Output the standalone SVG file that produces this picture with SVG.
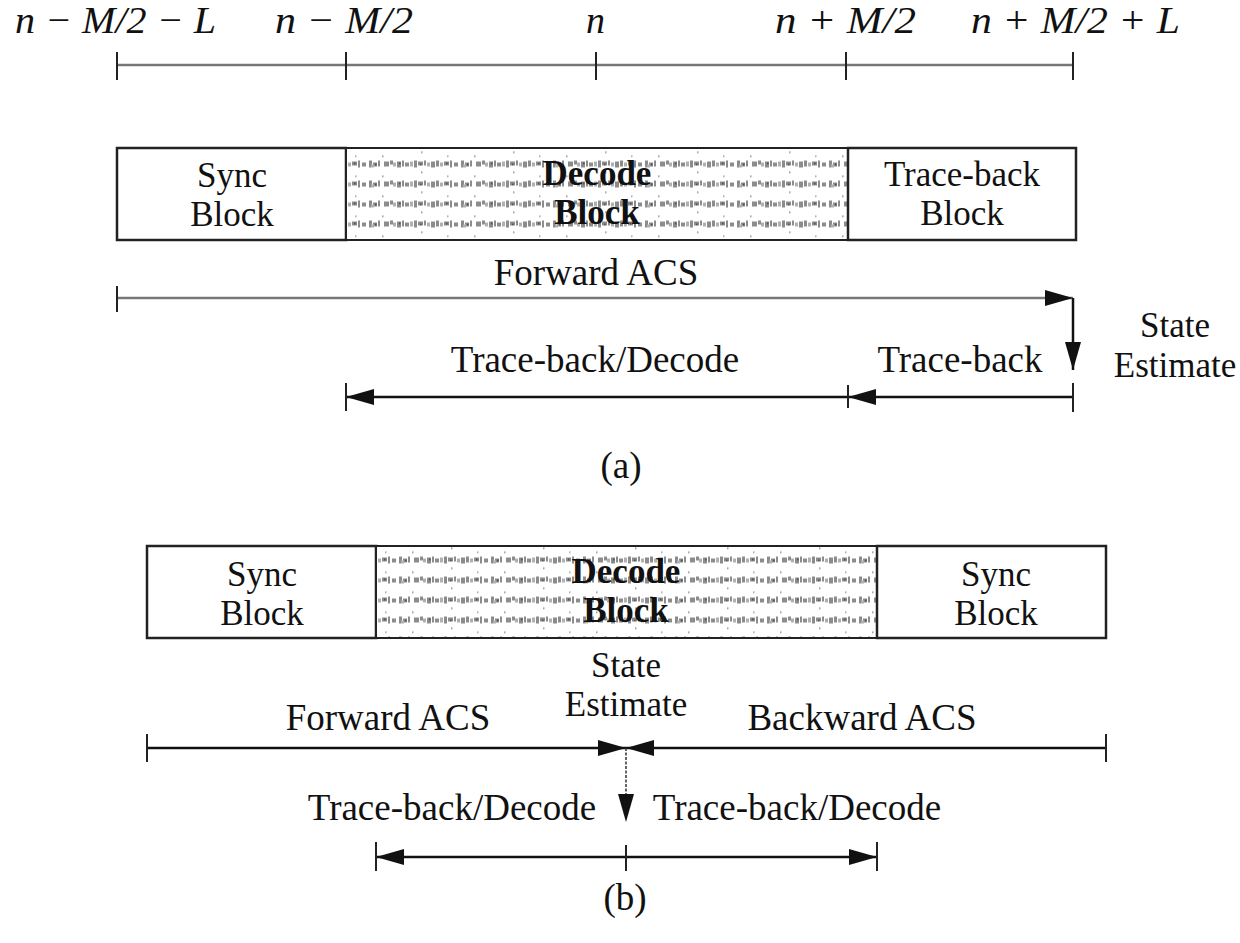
<svg xmlns="http://www.w3.org/2000/svg" width="1240" height="943" viewBox="0 0 1240 943">
  <style>
    .lbl { font-family: "Liberation Serif", "Times New Roman", serif; font-size: 37px; fill: #111; text-anchor: middle; }
    .two { font-size: 35px; }
    .math { font-family: "Liberation Serif", "Times New Roman", serif; font-size: 38px; fill: #111; font-style: italic; }
    .bold { font-weight: bold; }
    .box { fill: #fff; stroke: #222; stroke-width: 2.5; }
    .texa { fill: url(#halftone-a); stroke: #222; stroke-width: 2; }
    .texb { fill: url(#halftone-b); stroke: #222; stroke-width: 2; }
    .ln { stroke: #111; stroke-width: 2.5; fill: none; }
    .gray { stroke: #777; stroke-width: 2.5; fill: none; }
    .tick { stroke: #222; stroke-width: 2; }
    .thin { stroke: #333; stroke-width: 1.5; stroke-dasharray: 3 1.5; fill: none; }
  </style>
  <defs>
    <marker id="arrow" markerUnits="userSpaceOnUse" markerWidth="30" markerHeight="18" refX="28" refY="8" orient="auto">
      <path d="M0,0 L28,8 L0,16 Z" fill="#111"/>
    </marker>
    <!-- one tile of the speckled grey rows used inside the decode blocks -->
    <g id="speck">
      <rect width="92" height="20" fill="#fff"/>
      <g fill="#8c8c8c">
        <rect x="1" y="6" width="3" height="7"/>
        <rect x="5" y="8" width="4" height="4"/>
        <rect x="10" y="6" width="2" height="6"/>
        <rect x="16" y="7" width="5" height="5"/>
        <rect x="22" y="6" width="3" height="4"/>
        <rect x="29" y="7" width="4" height="6"/>
        <rect x="34" y="6" width="2" height="6"/>
        <rect x="37" y="8" width="4" height="4"/>
        <rect x="46" y="6" width="3" height="7"/>
        <rect x="50" y="7" width="5" height="4"/>
        <rect x="56" y="6" width="2" height="5"/>
        <rect x="63" y="7" width="4" height="6"/>
        <rect x="68" y="6" width="3" height="6"/>
        <rect x="76" y="7" width="5" height="4"/>
        <rect x="82" y="6" width="2" height="7"/>
        <rect x="86" y="8" width="4" height="4"/>
      </g>
      <g fill="#b0b0b0">
        <rect x="3" y="10" width="3" height="3"/>
        <rect x="25" y="8" width="3" height="4"/>
        <rect x="42" y="7" width="3" height="5"/>
        <rect x="59" y="8" width="3" height="4"/>
        <rect x="72" y="8" width="3" height="4"/>
      </g>
      <g fill="#555">
        <rect x="7" y="9" width="1.5" height="2"/>
        <rect x="31" y="8" width="1.5" height="2"/>
        <rect x="52" y="9" width="1.5" height="2"/>
        <rect x="78" y="8" width="1.5" height="2"/>
      </g>
      <rect x="14" y="1" width="1.5" height="1.5" fill="#888"/>
      <rect x="53" y="17" width="1.5" height="1.5" fill="#888"/>
      <rect x="79" y="1" width="1.5" height="1.5" fill="#999"/>
    </g>
    <pattern id="halftone-a" patternUnits="userSpaceOnUse" x="0" y="14.5" width="92" height="20">
      <use href="#speck"/>
    </pattern>
    <pattern id="halftone-b" patternUnits="userSpaceOnUse" x="30" y="10.5" width="92" height="20">
      <use href="#speck"/>
    </pattern>
  </defs>

  <!-- (a) index axis -->
  <g id="axis-a">
    <text class="math" x="15" y="33" textLength="201" lengthAdjust="spacingAndGlyphs">n − M/2 − L</text>
    <text class="math" x="275" y="33" textLength="138" lengthAdjust="spacingAndGlyphs">n − M/2</text>
    <text class="math" x="586" y="33">n</text>
    <text class="math" x="775" y="33" textLength="141" lengthAdjust="spacingAndGlyphs">n + M/2</text>
    <text class="math" x="971" y="33" textLength="209" lengthAdjust="spacingAndGlyphs">n + M/2 + L</text>
    <line class="gray" x1="117" y1="65" x2="1073" y2="65"/>
    <line class="tick" x1="117" y1="52" x2="117" y2="80"/>
    <line class="tick" x1="346" y1="52" x2="346" y2="80"/>
    <line class="tick" x1="596" y1="52" x2="596" y2="80"/>
    <line class="tick" x1="846" y1="52" x2="846" y2="80"/>
    <line class="tick" x1="1073" y1="52" x2="1073" y2="80"/>
  </g>

  <!-- (a) blocks -->
  <g id="a-sync">
    <rect class="box" x="117" y="148" width="229" height="92"/>
    <text class="lbl two" x="232" y="187">Sync</text>
    <text class="lbl two" x="232" y="226">Block</text>
  </g>
  <g id="a-decode">
    <rect class="texa" x="346" y="148" width="502" height="92"/>
    <text class="lbl two bold" x="597" y="185">Decode</text>
    <text class="lbl two bold" x="597" y="224">Block</text>
  </g>
  <g id="a-traceback">
    <rect class="box" x="848" y="148" width="228" height="92"/>
    <text class="lbl two" x="962" y="186">Trace-back</text>
    <text class="lbl two" x="962" y="225">Block</text>
  </g>

  <g id="a-labels">
    <text class="lbl" x="596" y="285">Forward ACS</text>
    <text class="lbl two" x="1175" y="337">State</text>
    <text class="lbl two" x="1175" y="377">Estimate</text>
    <text class="lbl" x="595" y="372">Trace-back/Decode</text>
    <text class="lbl" x="960" y="372">Trace-back</text>
    <text class="lbl" x="621" y="478">(a)</text>
  </g>

  <!-- (a) connectors -->
  <g id="connectors-a">
    <line class="gray" x1="117" y1="298" x2="1073" y2="298" marker-end="url(#arrow)"/>
    <line class="tick" x1="117" y1="286" x2="117" y2="312"/>
    <line class="ln" x1="1073" y1="298" x2="1073" y2="370" marker-end="url(#arrow)"/>
    <line class="ln" x1="1073" y1="397" x2="848" y2="397" marker-end="url(#arrow)"/>
    <line class="ln" x1="848" y1="397" x2="346" y2="397" marker-end="url(#arrow)"/>
    <line class="tick" x1="346" y1="383" x2="346" y2="411"/>
    <line class="tick" x1="848" y1="385" x2="848" y2="408" stroke-width="1.2"/>
    <line class="tick" x1="1073" y1="383" x2="1073" y2="412"/>
  </g>

  <!-- (b) blocks -->
  <g id="b-sync-left">
    <rect class="box" x="147" y="546" width="229" height="92"/>
    <text class="lbl two" x="262" y="586">Sync</text>
    <text class="lbl two" x="262" y="625">Block</text>
  </g>
  <g id="b-decode">
    <rect class="texb" x="376" y="546" width="501" height="92"/>
    <text class="lbl two bold" x="626" y="583">Decode</text>
    <text class="lbl two bold" x="626" y="622">Block</text>
  </g>
  <g id="b-sync-right">
    <rect class="box" x="877" y="546" width="229" height="92"/>
    <text class="lbl two" x="996" y="586">Sync</text>
    <text class="lbl two" x="996" y="625">Block</text>
  </g>

  <g id="b-labels">
    <text class="lbl two" x="626" y="677">State</text>
    <text class="lbl two" x="626" y="716">Estimate</text>
    <text class="lbl" x="388" y="730">Forward ACS</text>
    <text class="lbl" x="862" y="730">Backward ACS</text>
    <text class="lbl" x="452" y="820">Trace-back/Decode</text>
    <text class="lbl" x="797" y="820">Trace-back/Decode</text>
    <text class="lbl" x="625" y="910">(b)</text>
  </g>

  <!-- (b) connectors -->
  <g id="connectors-b">
    <line class="ln" x1="147" y1="748" x2="626" y2="748" marker-end="url(#arrow)"/>
    <line class="ln" x1="1106" y1="748" x2="626" y2="748" marker-end="url(#arrow)"/>
    <line class="tick" x1="147" y1="734" x2="147" y2="762"/>
    <line class="tick" x1="1106" y1="734" x2="1106" y2="762"/>
    <line class="thin" x1="626" y1="748" x2="626" y2="800"/>
    <path d="M618,794 L626,822 L634,794 Z" fill="#111"/>
    <line class="ln" x1="626" y1="857" x2="376" y2="857" marker-end="url(#arrow)"/>
    <line class="ln" x1="626" y1="857" x2="877" y2="857" marker-end="url(#arrow)"/>
    <line class="tick" x1="376" y1="842" x2="376" y2="871"/>
    <line class="tick" x1="626" y1="845" x2="626" y2="871" stroke-width="1.5"/>
    <line class="tick" x1="877" y1="842" x2="877" y2="871"/>
  </g>
</svg>
